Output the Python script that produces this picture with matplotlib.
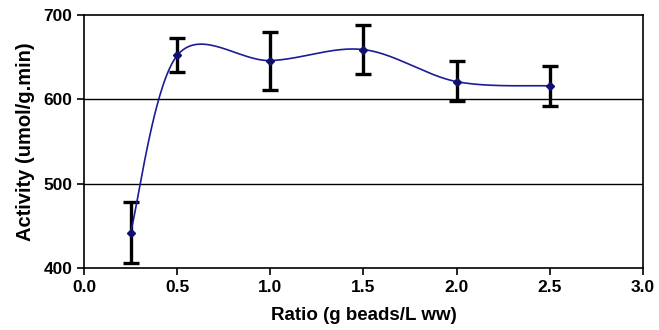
import numpy as np
import matplotlib
matplotlib.use("Agg")
import matplotlib.pyplot as plt

# data
ratio = [0.25, 0.5, 1.0, 1.5, 2.0, 2.5]
activity = [442, 652, 646, 659, 621, 616]
err_hi = [478, 673, 680, 688, 646, 639]
err_lo = [406, 632, 611, 630, 598, 592]


def excel_smooth(x, y, n=60):
    # Catmull-Rom style bezier, like the spreadsheet "smoothed line"
    p = np.column_stack([x, y]).astype(float)
    p = np.vstack([p[0], p, p[-1]])
    out = []
    t = np.linspace(0, 1, n)[:, None]
    for i in range(1, len(p) - 2):
        p0, p1, p2, p3 = p[i - 1], p[i], p[i + 1], p[i + 2]
        c1 = p1 + (p2 - p0) / 6
        c2 = p2 - (p3 - p1) / 6
        seg = ((1 - t) ** 3) * p1 + 3 * ((1 - t) ** 2) * t * c1 \
            + 3 * (1 - t) * t ** 2 * c2 + t ** 3 * p2
        out.append(seg)
    out = np.vstack(out)
    return out[:, 0], out[:, 1]


plt.rcParams['font.family'] = ['Liberation Sans', 'DejaVu Sans']
plt.rcParams['font.weight'] = 'bold'

fig = plt.figure(figsize=(6.59, 3.30), dpi=100)
ax = fig.add_axes([0.1275, 0.188, 0.848, 0.7665])

yerr = [np.array(activity) - np.array(err_lo), np.array(err_hi) - np.array(activity)]
ax.errorbar(ratio, activity, yerr=yerr, fmt='none', ecolor='black',
            elinewidth=2.4, capsize=5.5, capthick=2.4, zorder=3)

sx, sy = excel_smooth(ratio, activity)
ax.plot(sx, sy, color='#1c1c96', lw=1.2, zorder=4)
ax.plot(ratio, activity, 'D', color='#10106e', ms=4, zorder=5)

ax.set_xlim(0, 3.0)
ax.set_ylim(400, 700)
ax.set_xticks(np.arange(0, 3.01, 0.5))
ax.set_xticklabels([f"{v:.1f}" for v in np.arange(0, 3.01, 0.5)])
ax.set_yticks([400, 500, 600, 700])
for v in [500, 600]:
    ax.axhline(v, color='black', lw=1, zorder=1)

for s in ax.spines.values():
    s.set_linewidth(1.2)
ax.tick_params(direction='out', length=5, width=1.2, labelsize=12.5)
ax.set_xlabel("Ratio (g beads/L ww)", fontsize=13.5, fontweight='bold', labelpad=9)
ax.set_ylabel("Activity (umol/g.min)", fontsize=14.5, fontweight='bold', labelpad=6)

fig.savefig("out.png", dpi=100)
